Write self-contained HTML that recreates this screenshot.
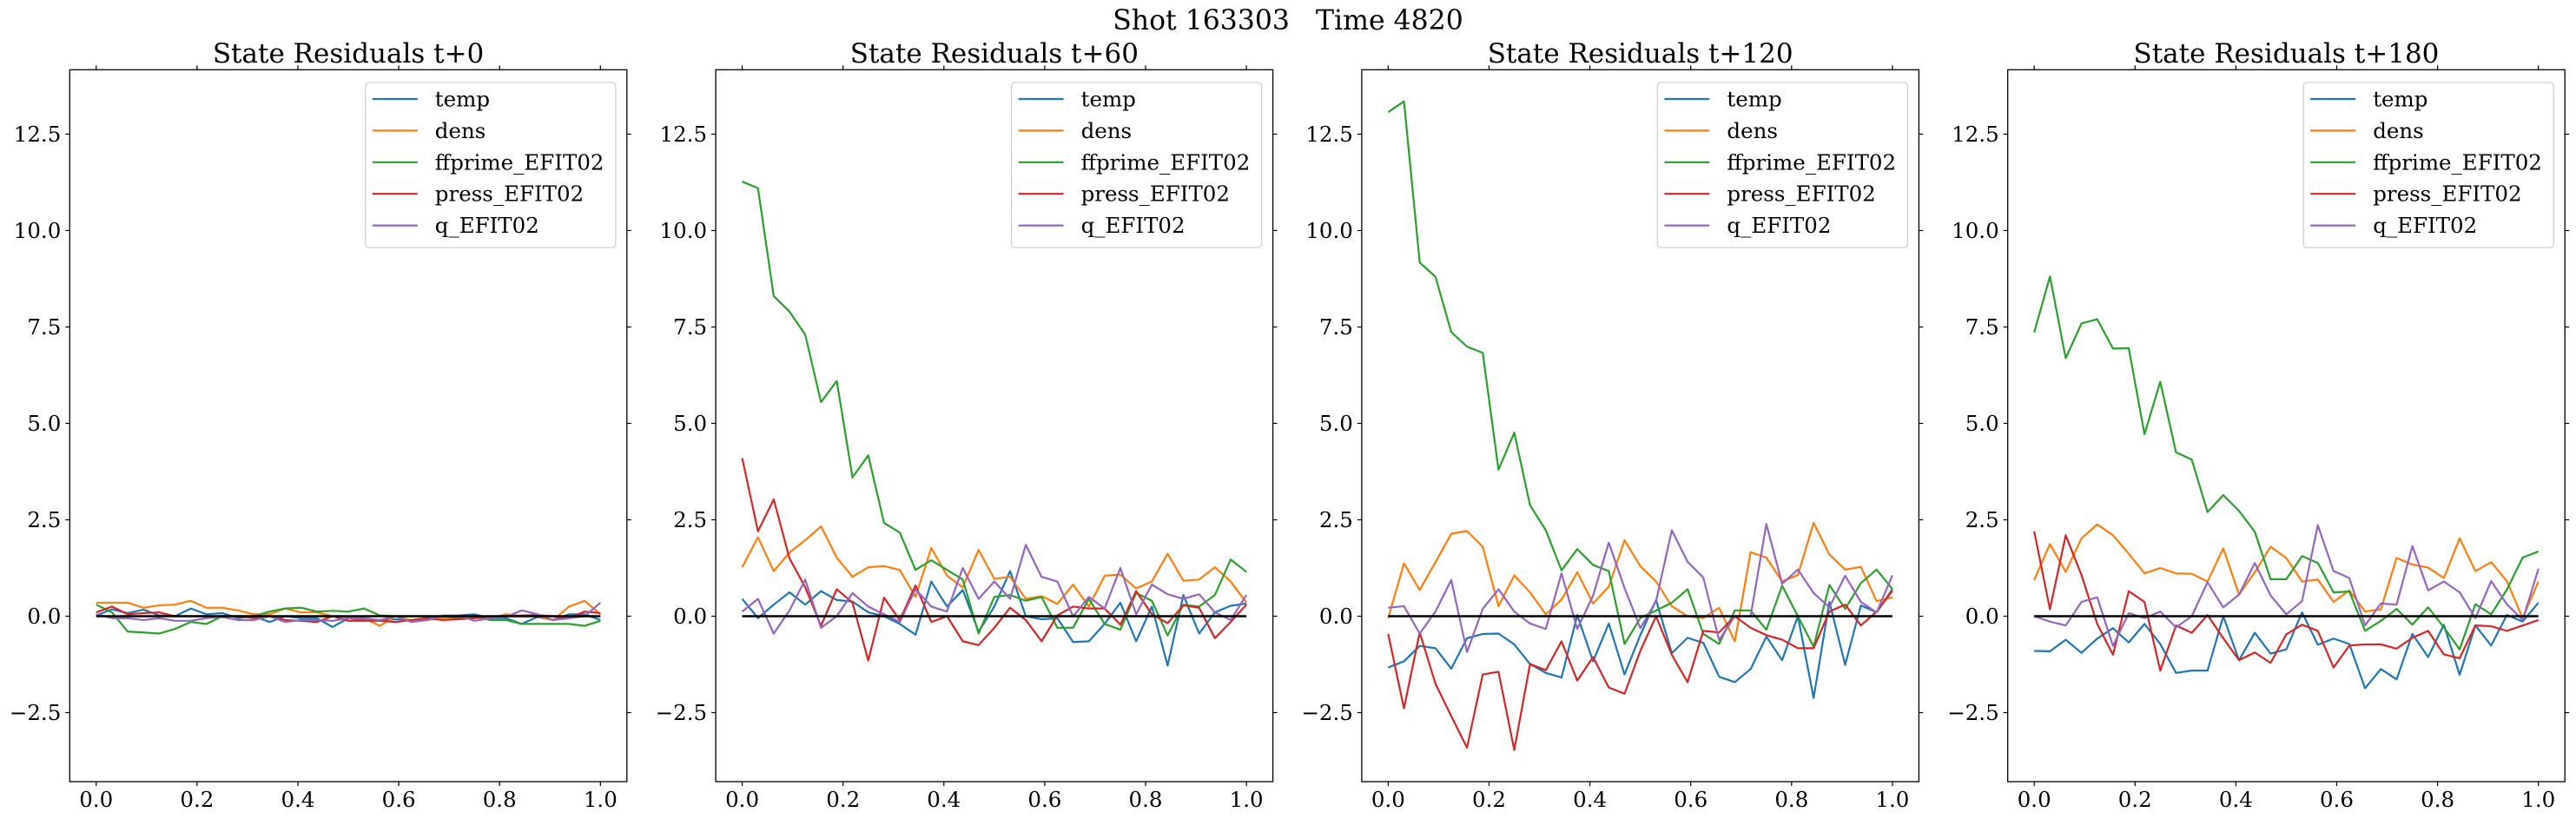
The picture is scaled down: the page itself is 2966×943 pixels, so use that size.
<!DOCTYPE html>
<html><head><meta charset="utf-8"><style>
html,body{margin:0;padding:0;background:#fff;}
svg{display:block;font-family:"DejaVu Serif","Liberation Serif",serif;}
</style></head><body>
<svg id="fig" width="2966" height="943" viewBox="0 0 2966 943" xmlns="http://www.w3.org/2000/svg">
<rect width="2966" height="943" fill="#fff"/>
<text x="1483" y="34" font-size="31.5" text-anchor="middle" fill="#000" xml:space="preserve" style="white-space:pre">Shot 163303   Time 4820</text>
</svg>
<script>
const seriesNames = ["temp","dens","ffprime_EFIT02","press_EFIT02","q_EFIT02"];
const seriesColors = ["#1f77b4","#ff7f0e","#2ca02c","#d62728","#9467bd"];
const panelTitles = ["State Residuals t+0","State Residuals t+60","State Residuals t+120","State Residuals t+180"];
const xTicks = [0.0,0.2,0.4,0.6,0.8,1.0];
const xTickLabels = ["0.0","0.2","0.4","0.6","0.8","1.0"];
const yTicks = [-2.5,0,2.5,5,7.5,10,12.5];
const yTickLabels = ["\u22122.5","0.0","2.5","5.0","7.5","10.0","12.5"];
const nPoints = 33;

const p0_temp = [0.02,0.18,0.08,0.17,0.02,0.0,0.2,0.05,0.08,-0.05,0.0,-0.15,0.0,-0.05,-0.05,-0.28,-0.05,-0.1,-0.1,-0.08,-0.1,-0.05,0.0,0.02,0.05,-0.05,-0.05,-0.2,-0.02,-0.1,0.05,0.05,-0.1];
const p0_dens = [0.35,0.35,0.35,0.22,0.28,0.3,0.4,0.22,0.22,0.15,0.05,0.05,0.2,0.1,0.1,0.0,-0.05,-0.05,-0.25,0.0,-0.1,-0.1,-0.05,-0.05,0.0,-0.05,0.05,0.0,0.0,-0.1,0.25,0.4,0.05];
const p0_ffprime = [0.3,0.1,-0.4,-0.42,-0.45,-0.33,-0.15,-0.2,0.0,0.0,0.0,0.12,0.2,0.22,0.12,0.14,0.12,0.2,0.02,0.0,0.0,0.0,0.0,-0.05,0.0,-0.1,-0.1,-0.2,-0.2,-0.2,-0.2,-0.25,-0.12];
const p0_press = [0.1,0.25,0.05,0.08,0.1,0.0,0.0,0.0,0.0,0.0,-0.05,0.0,-0.1,-0.12,-0.15,0.0,-0.12,-0.12,-0.12,-0.15,-0.1,-0.05,-0.1,-0.08,-0.05,-0.02,0.0,0.02,0.03,0.0,-0.05,0.12,0.08];
const p0_q = [0.05,-0.05,-0.05,-0.1,-0.05,-0.12,-0.12,-0.05,-0.02,-0.1,-0.1,0.0,-0.15,-0.1,-0.1,-0.12,-0.05,-0.05,-0.1,0.0,-0.15,-0.1,0.02,0.02,-0.12,-0.05,-0.02,0.15,0.05,-0.1,-0.05,0.0,0.35];

const p1_temp = [0.45,-0.05,0.3,0.62,0.3,0.65,0.42,0.38,0.1,0.0,-0.2,-0.48,0.9,0.25,0.68,-0.4,0.25,1.17,0.0,-0.08,-0.05,-0.67,-0.65,-0.2,0.35,-0.65,0.25,-1.28,0.55,-0.45,0.1,0.27,0.33];
const p1_dens = [1.27,2.05,1.17,1.65,1.97,2.33,1.52,1.02,1.27,1.3,1.2,0.5,1.77,1.05,0.75,1.72,0.97,1.02,0.45,0.52,0.32,0.82,0.25,1.05,1.08,0.72,0.9,1.62,0.92,0.95,1.27,0.9,0.35];
const p1_ffprime = [11.27,11.1,8.3,7.9,7.3,5.55,6.1,3.6,4.17,2.42,2.17,1.2,1.45,1.2,0.95,-0.45,0.5,0.55,0.4,0.5,-0.3,-0.3,0.45,-0.2,-0.35,0.6,0.4,-0.5,0.3,0.25,0.55,1.47,1.15];
const p1_press = [4.1,2.2,3.03,1.5,0.75,-0.25,0.7,0.35,-1.15,0.48,-0.1,0.8,-0.15,0.0,-0.65,-0.75,-0.3,0.22,-0.1,-0.65,0.02,0.25,0.2,0.2,-0.22,0.65,0.05,-0.18,0.28,0.22,-0.57,-0.15,0.3];
const p1_q = [0.12,0.45,-0.45,0.15,0.95,-0.3,0.0,0.6,0.25,0.05,-0.15,0.7,0.25,0.12,1.25,0.45,0.9,0.45,1.85,1.02,0.9,0.0,0.5,0.2,1.25,0.05,0.82,0.57,0.45,0.57,0.1,-0.1,0.55];

const p2_temp = [-1.33,-1.17,-0.77,-0.83,-1.36,-0.57,-0.46,-0.45,-0.73,-1.24,-1.47,-1.59,0.03,-1.17,-0.19,-1.51,-0.49,0.42,-0.96,-0.56,-0.69,-1.57,-1.71,-1.37,-0.53,-1.14,0.0,-2.12,0.37,-1.26,0.28,0.1,0.7];
const p2_dens = [-0.05,1.37,0.68,1.4,2.14,2.21,1.8,0.26,1.06,0.62,0.05,0.43,1.14,0.33,0.77,1.97,1.3,0.9,0.26,0.0,-0.05,0.22,-0.65,1.66,1.52,0.9,1.07,2.42,1.6,1.21,1.28,0.39,0.49];
const p2_ffprime = [13.07,13.35,9.17,8.8,7.37,6.99,6.83,3.8,4.76,2.88,2.23,1.19,1.74,1.33,1.17,-0.72,-0.05,0.15,0.35,0.7,-0.46,-0.72,0.15,0.15,-0.35,0.79,0.0,-0.79,0.81,0.19,0.86,1.21,0.7];
const p2_press = [-0.46,-2.39,-0.42,-1.75,-2.59,-3.41,-1.51,-1.44,-3.47,-1.24,-1.4,-0.65,-1.67,-1.06,-1.85,-2.01,-0.9,0.0,-1.0,-1.71,-0.38,-0.42,0.0,-0.3,-0.49,-0.61,-0.83,-0.83,0.12,0.3,-0.24,0.12,0.66];
const p2_q = [0.22,0.26,-0.45,0.12,0.94,-0.93,0.19,0.7,0.12,-0.19,-0.33,1.11,-0.33,0.53,1.91,0.73,-0.31,0.39,2.23,1.41,1.0,-0.62,0.0,0.0,2.39,0.84,1.21,0.6,0.23,1.05,0.37,0.1,1.06];

const p3_temp = [-0.9,-0.91,-0.61,-0.95,-0.58,-0.31,-0.68,-0.2,-0.72,-1.47,-1.41,-1.41,0.0,-1.14,-0.43,-0.97,-0.86,0.1,-0.74,-0.58,-0.72,-1.87,-1.37,-1.64,-0.46,-1.06,-0.22,-1.52,-0.24,-0.76,0.03,-0.14,0.35];
const p3_dens = [0.94,1.87,1.15,2.02,2.38,2.1,1.62,1.11,1.25,1.11,1.1,0.9,1.76,0.56,1.14,1.8,1.51,0.9,0.95,0.37,0.67,0.12,0.18,1.51,1.34,1.26,0.99,2.02,1.17,1.4,0.91,-0.05,0.9];
const p3_ffprime = [7.36,8.81,6.69,7.59,7.7,6.94,6.95,4.72,6.08,4.25,4.06,2.7,3.14,2.73,2.19,0.96,0.96,1.56,1.38,0.62,0.64,-0.38,-0.12,0.19,-0.22,0.23,-0.29,-0.86,0.31,0.05,0.69,1.52,1.68];
const p3_press = [2.2,0.18,2.1,1.07,-0.2,-1.0,0.65,0.37,-1.41,-0.24,-0.43,0.03,-0.57,-1.14,-0.94,-1.21,-0.47,-0.22,-0.38,-1.33,-0.76,-0.73,-0.73,-0.84,-0.56,-0.38,-0.99,-1.09,-0.24,-0.26,-0.38,-0.24,-0.1];
const p3_q = [0.0,-0.14,-0.24,0.37,0.49,-0.77,0.08,-0.05,0.12,-0.29,0.0,0.88,0.23,0.56,1.38,0.54,0.05,0.39,2.36,1.17,0.99,-0.24,0.33,0.3,1.82,0.67,0.9,0.62,-0.05,0.91,0.31,-0.1,1.23];

const panelData = [
  [p0_temp,p0_dens,p0_ffprime,p0_press,p0_q],
  [p1_temp,p1_dens,p1_ffprime,p1_press,p1_q],
  [p2_temp,p2_dens,p2_ffprime,p2_press,p2_q],
  [p3_temp,p3_dens,p3_ffprime,p3_press,p3_q]
];

const NS = "http://www.w3.org/2000/svg";
const svg = document.getElementById('fig');
const AX_W = 641.5, AX_TOP = 80.3, AX_BOT = 900, PANEL_STEP = 743.8, FIRST_LEFT = 80.3;
const XMIN = -0.0525, XMAX = 1.0525, YMIN = -4.29, YMAX = 14.17;

function mk(tag, attrs, parent){
  const e = document.createElementNS(NS, tag);
  for (const k in attrs) e.setAttribute(k, attrs[k]);
  (parent||svg).appendChild(e);
  return e;
}

panelTitles.forEach((title, p) => {
  const left = FIRST_LEFT + p*PANEL_STEP;
  const right = left + AX_W;
  const sx = v => left + (v - XMIN) / (XMAX - XMIN) * AX_W;
  const sy = v => AX_BOT - (v - YMIN) / (YMAX - YMIN) * (AX_BOT - AX_TOP);

  const g = mk('g', {});
  
  

  const t = mk('text', {x: (left+right)/2, y: 72, 'font-size': 31, 'text-anchor':'middle', fill:'#000'}, g);
  t.textContent = title;
  
  

  xTicks.forEach((v, i) => {
    const x = sx(v);
    const tb = mk('line', {x1:x, x2:x, y1:AX_BOT, y2:AX_BOT+5, stroke:'#000', 'stroke-width':1.2}, g);
    
    
    const tt = mk('line', {x1:x, x2:x, y1:AX_TOP, y2:AX_TOP-5, stroke:'#000', 'stroke-width':1.2}, g);
    
    
    const lb = mk('text', {x:x, y:929, 'font-size':24.5, 'text-anchor':'middle', fill:'#000'}, g);
    lb.textContent = xTickLabels[i];
    
    
  });
  yTicks.forEach((v, i) => {
    const y = sy(v);
    const tl = mk('line', {x1:left-5, x2:left, y1:y, y2:y, stroke:'#000', 'stroke-width':1.2}, g);
    
    
    const tr = mk('line', {x1:right, x2:right+5, y1:y, y2:y, stroke:'#000', 'stroke-width':1.2}, g);
    
    
    const lb = mk('text', {x:left-10, y:y+8.5, 'font-size':24.5, 'text-anchor':'end', fill:'#000'}, g);
    lb.textContent = yTickLabels[i];
    
    
  });

  panelData[p].forEach((vals, s) => {
    const pts = vals.map((v, i) => sx(i/(nPoints-1)).toFixed(2) + ',' + sy(v).toFixed(2)).join(' ');
    const pl = mk('polyline', {points: pts, fill:'none', stroke: seriesColors[s], 'stroke-width':2.2, 'stroke-linejoin':'round'}, g);
    
    
  });

  const zl = mk('line', {x1:sx(0), x2:sx(1), y1:sy(0), y2:sy(0), stroke:'#000', 'stroke-width':2.6}, g);
  
  

  const frame = mk('rect', {x:left, y:AX_TOP, width:AX_W, height:AX_BOT-AX_TOP, fill:'none', stroke:'#000', 'stroke-width':1.3}, g);
  
  

  const lx = right - 301, ly = 95;
  const lg = mk('g', {}, g);
  
  
  mk('rect', {x:lx, y:ly, width:288, height:190, rx:4, fill:'#fff', 'fill-opacity':0.8, stroke:'#d0d0d0', 'stroke-width':1.3}, lg);
  seriesNames.forEach((n, s) => {
    const ry = 114 + s*36.4;
    const hl = mk('line', {x1:lx+8, x2:lx+60, y1:ry, y2:ry, stroke:seriesColors[s], 'stroke-width':2.2}, lg);
    
    
    const tx = mk('text', {x:lx+80, y:ry+8.5, 'font-size':24.5, fill:'#000'}, lg);
    tx.textContent = n;
    
    
  });
});
</script>
</body></html>
